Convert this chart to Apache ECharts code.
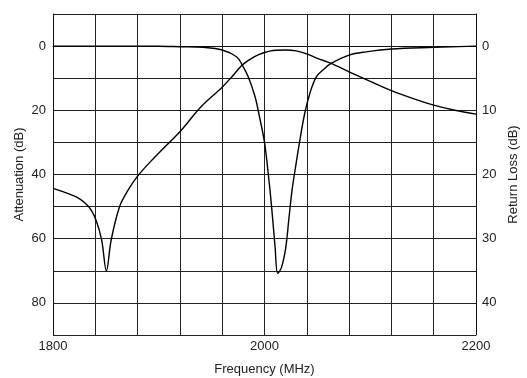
<!DOCTYPE html>
<html>
<head>
<meta charset="utf-8">
<script src="https://cdn.jsdelivr.net/npm/echarts@6/dist/echarts.min.js"></script>
<style>
html,body{margin:0;padding:0;background:#fff;}
#chart{width:527px;height:378px;}
</style>
</head>
<body>
<div id="chart"></div>
<script>
// Attenuation (left axis, dB)
var attFreq = [1800,1810,1822,1830,1836,1841,1846,1850.5,1855,1863,1871,1880,1895,1910,1920,1940,1960,1969,1979,1989,1995,2000,2006,2011,2020,2030,2040,2050,2063,2080,2100,2120,2140,2160,2180,2200];
var attVal  = [44.3,45.4,47,48.8,51,54.5,60.4,70,60.4,50,44.9,40.5,35,30,26.7,18.9,12.8,9.6,5.9,3.6,2.6,2.0,1.5,1.3,1.2,1.5,2.4,3.8,5.4,8,11,13.9,16.3,18.4,20,21.2];
// Return loss (right axis, dB)
var rlFreq = [1800,1850,1900,1920,1942,1960,1973.5,1979,1984.5,1991,1995,2000,2003.5,2006.7,2010,2012.5,2016,2020,2023,2026,2029,2033.5,2038,2043,2049,2056,2063,2080,2096,2120,2160,2200];
var rlVal  = [0,0,0.02,0.1,0.2,0.6,1.65,2.95,4.75,7.85,10.8,15,19.8,25,31.3,35.4,34.5,31.5,27,22.5,19.2,14.6,10.5,7.3,4.8,3.6,2.7,1.4,0.9,0.45,0.2,0];
// Tick labels
var xLabels = [1800,2000,2200];
var leftLabels = [0,20,40,60,80];
var rightLabels = [0,10,20,30,40];

function pairs(xs, ys){ return xs.map(function(x,i){ return [x, ys[i]]; }); }

var font = 'Liberation Sans, Arial, sans-serif';
var txt = {color:'#222', fontFamily:font, fontSize:13};
var chart = echarts.init(document.getElementById('chart'), null, {renderer:'canvas'});
chart.setOption({
  animation:false,
  backgroundColor:'#fff',
  grid:{left:53, right:51, top:14, bottom:43, containLabel:false, outerBoundsMode:'none'},
  xAxis:{
    type:'value', min:1800, max:2200, interval:40,
    name:'Frequency (MHz)', nameLocation:'middle', nameGap:28, nameMoveOverlap:false, nameTextStyle:txt,
    axisLine:{show:true, lineStyle:{color:'#111', width:1}},
    axisTick:{show:false},
    axisLabel:Object.assign({margin:5, formatter:function(v){ return xLabels.indexOf(v)>=0 ? String(v) : ''; }}, txt),
    splitLine:{show:true, lineStyle:{color:'#222', width:1}}
  },
  yAxis:[{
    type:'value', min:-10, max:90, interval:10, inverse:true, position:'left',
    name:'Attenuation (dB)', nameLocation:'middle', nameGap:27, nameMoveOverlap:false, nameTextStyle:txt,
    axisLine:{show:true, lineStyle:{color:'#111', width:1}},
    axisTick:{show:false},
    axisLabel:Object.assign({margin:7, formatter:function(v){ return leftLabels.indexOf(v)>=0 ? String(v) : ''; }}, txt),
    splitLine:{show:true, lineStyle:{color:'#222', width:1}}
  },{
    type:'value', min:-5, max:45, interval:5, inverse:true, position:'right',
    name:'Return Loss (dB)', nameLocation:'middle', nameGap:31, nameMoveOverlap:false, nameTextStyle:txt,
    axisLine:{show:true, lineStyle:{color:'#111', width:1}},
    axisTick:{show:false},
    axisLabel:Object.assign({margin:6, formatter:function(v){ return rightLabels.indexOf(v)>=0 ? String(v) : ''; }}, txt),
    splitLine:{show:false}
  }],
  series:[{
    name:'Attenuation', type:'line', yAxisIndex:0, data:pairs(attFreq, attVal),
    showSymbol:false, smooth:0.35,
    lineStyle:{color:'#000', width:1.4}
  },{
    name:'Return Loss', type:'line', yAxisIndex:1, data:pairs(rlFreq, rlVal),
    showSymbol:false, smooth:0.35,
    lineStyle:{color:'#000', width:1.4}
  }]
});
</script>
</body>
</html>
